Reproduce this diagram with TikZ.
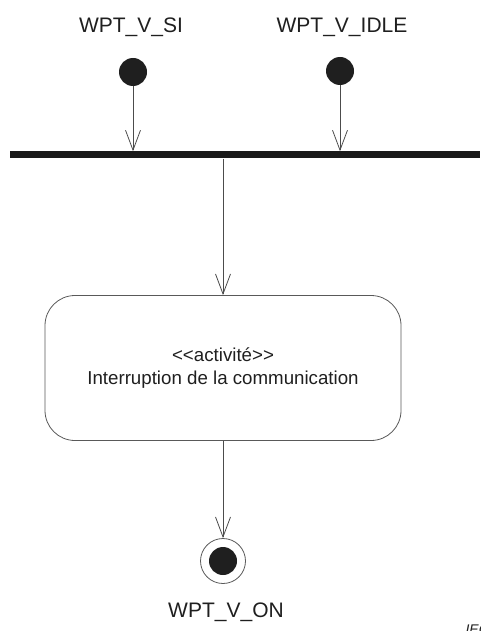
\documentclass[tikz,border=0pt]{standalone}
\usepackage{fontspec}
\setmainfont{Liberation Sans}
\usetikzlibrary{arrows.meta}
\begin{document}
\begin{tikzpicture}[x=1pt, y=-1pt,
	flow/.style={draw=black!70, line width=0.8pt, -{Straight Barb[length=20pt, width=15pt]}},
	startdot/.style={circle, fill=black!88, minimum size=28pt, inner sep=0pt},
	lbl/.style={anchor=base, text=black!88, font=\fontsize{21}{24}\selectfont},
	activity/.style={draw=black!65, line width=0.8pt, rounded corners=30pt, minimum width=356pt, minimum height=145pt, align=center, text=black!88, font=\fontsize{18.7}{22.4}\selectfont}]
	\useasboundingbox (0,0) rectangle (480,631);
	% etats initiaux
	\node[lbl] (siLbl) at (131,33) {WPT\_V\_SI};
	\node[lbl] (idleLbl) at (342,33) {WPT\_V\_IDLE};
	\node[startdot] (si) at (133,72) {};
	\node[startdot] (idle) at (340,71) {};
	% barre de jonction
	\node[fill=black!90, minimum width=470pt, minimum height=7pt, inner sep=0pt] (join) at (245,155) {};
	\draw[flow] (si) -- (si |- join.north);
	\draw[flow] (idle) -- (idle |- join.north);
	% activite
	\node[activity] (act) at (223,368) {<{}<activité>{}>\\Interruption de la communication};
	\draw[flow] (join.south -| act.north) -- (act.north);
	% etat final
	\node[circle, draw=black!65, line width=0.8pt, minimum size=45pt, inner sep=0pt] (on) at (223,561) {};
	\node[startdot] (onDot) at (on.center) {};
	\draw[flow] (act) -- (on);
	\node[lbl] (onLbl) at (226,617) {WPT\_V\_ON};
	\node[anchor=base west, text=black!88, font=\itshape\fontsize{14}{16}\selectfont] (iec) at (462,634) {IEC};
\end{tikzpicture}
\end{document}
